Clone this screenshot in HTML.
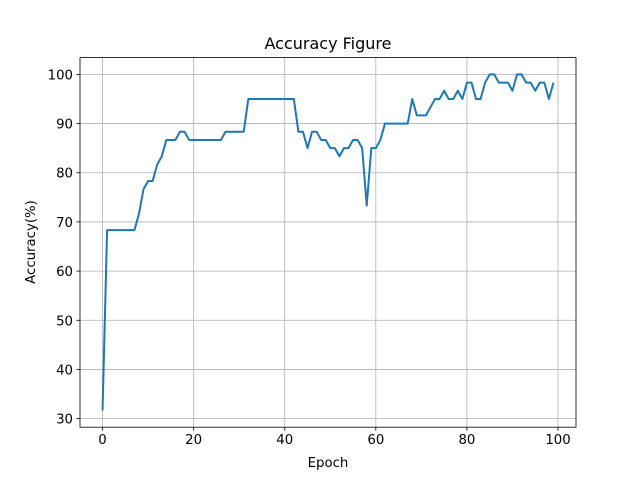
<!DOCTYPE html>
<html><head><meta charset="utf-8"><style>body{margin:0;background:#fff}svg{display:block;font-family:"DejaVu Sans","Liberation Sans",sans-serif}</style></head>
<body>
<svg id="chart" width="640" height="480" xmlns="http://www.w3.org/2000/svg">
<rect width="640" height="480" fill="#fff"/>
<text x="328" y="49" text-anchor="middle" font-size="16">Accuracy Figure</text>
<g id="grid"></g>
<g id="ticks"></g>
<polyline id="line" fill="none" stroke="#1f77b4" stroke-width="2" stroke-linejoin="round"/>
<rect x="80" y="57.6" width="496" height="369.6" fill="none" stroke="#000" stroke-width="0.8"/>
<text x="328" y="467" text-anchor="middle" font-size="13.3">Epoch</text>
<text transform="translate(35,242) rotate(-90)" text-anchor="middle" font-size="13.3">Accuracy(%)</text>
</svg>
<script>
const accuracy=[31.67,68.33,68.33,68.33,68.33,68.33,68.33,68.33,71.67,76.67,78.33,78.33,81.67,83.33,86.67,86.67,86.67,88.33,88.33,86.67,
86.67,86.67,86.67,86.67,86.67,86.67,86.67,88.33,88.33,88.33,88.33,88.33,95,95,95,95,95,95,95,95,
95,95,95,88.33,88.33,85,88.33,88.33,86.67,86.67,85,85,83.33,85,85,86.67,86.67,85,73.33,85,
85,86.67,90,90,90,90,90,90,95,91.67,91.67,91.67,93.33,95,95,96.67,95,95,96.67,95,
98.33,98.33,95,95,98.33,100,100,98.33,98.33,98.33,96.67,100,100,98.33,98.33,96.67,98.33,98.33,95,98.33];
const xTicks=[0,20,40,60,80,100];
const yTicks=[30,40,50,60,70,80,90,100];
const L=80,R=576,T=57.6,B=427.2;
const n=accuracy.length;
const mn=Math.min(...accuracy),mx=Math.max(...accuracy);
const xmin=-0.05*(n-1),xmax=(n-1)*1.05;
const ymin=mn-0.05*(mx-mn),ymax=mx+0.05*(mx-mn);
const X=v=>L+(v-xmin)/(xmax-xmin)*(R-L);
const Y=v=>B-(v-ymin)/(ymax-ymin)*(B-T);
const NS="http://www.w3.org/2000/svg";
const grid=document.getElementById('grid'),ticks=document.getElementById('ticks');
function mk(tag,attrs,parent){const e=document.createElementNS(NS,tag);for(const k in attrs)e.setAttribute(k,attrs[k]);parent.appendChild(e);return e;}
xTicks.forEach(t=>{const x=X(t);
const g=mk('line',{x1:x,x2:x,y1:T,y2:B,stroke:'#b0b0b0','stroke-width':0.8},grid);


const tk=mk('line',{x1:x,x2:x,y1:B,y2:B+3.5,stroke:'#000','stroke-width':0.8},ticks);


const tx=mk('text',{x:x,y:B+17,'text-anchor':'middle','font-size':13.3},ticks);tx.textContent=t;

});
yTicks.forEach(t=>{const y=Y(t);
const g=mk('line',{x1:L,x2:R,y1:y,y2:y,stroke:'#b0b0b0','stroke-width':0.8},grid);


const tk=mk('line',{x1:L-3.5,x2:L,y1:y,y2:y,stroke:'#000','stroke-width':0.8},ticks);


const tx=mk('text',{x:L-7,y:y+5,'text-anchor':'end','font-size':13.3},ticks);tx.textContent=t;

});
document.getElementById('line').setAttribute('points',accuracy.map((v,i)=>X(i)+','+Y(v)).join(' '));
</script>
</body></html>
